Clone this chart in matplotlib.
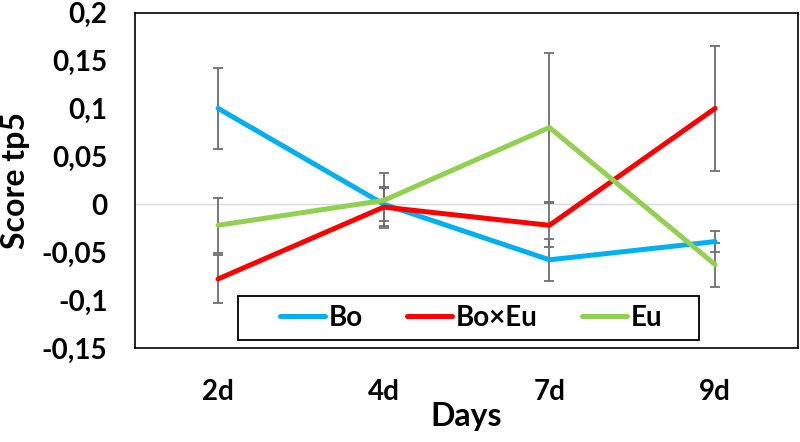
import matplotlib
matplotlib.use("Agg")
import matplotlib.pyplot as plt
from matplotlib.patches import Rectangle

# ================= data =================
days = ["2d", "4d", "7d", "9d"]
bo = [0.100, 0.000, -0.058, -0.039]
bo_err = [0.042, 0.018, 0.022, 0.011]
boxeu = [-0.078, -0.003, -0.022, 0.100]
boxeu_err = [0.025, 0.020, 0.023, 0.065]
eu = [-0.022, 0.004, 0.080, -0.063]
eu_err = [0.029, 0.029, 0.078, 0.023]
y_ticks = [-0.15, -0.1, -0.05, 0, 0.05, 0.1, 0.15, 0.2]
y_labels = ["-0,15", "-0,1", "-0,05", "0", "0,05", "0,1", "0,15", "0,2"]
# ========================================

plt.rcParams['font.family'] = ['Lato', 'DejaVu Sans']
plt.rcParams['font.weight'] = 'bold'

fig = plt.figure(figsize=(8, 4.42), dpi=100)
ax = fig.add_axes([0.169, 0.2127, 0.8285, 0.759])

x = list(range(len(days)))
series = [
    ("Bo", bo, bo_err, "#00B0F0"),
    ("Bo×Eu", boxeu, boxeu_err, "#FF0000"),
    ("Eu", eu, eu_err, "#92D050"),
]

ax.axhline(0, color="#D9D9D9", lw=1, zorder=0)

for name, vals, errs, col in series:
    ax.errorbar(x, vals, yerr=errs, fmt="none", ecolor="#6E6E6E",
                elinewidth=1.3, capsize=3.8, capthick=1.3, zorder=2)
for name, vals, errs, col in series:
    ax.plot(x, vals, color=col, lw=3.6, label=name, zorder=3,
            solid_capstyle="round")

ax.set_xlim(-0.5, 3.5)
ax.set_ylim(-0.15, 0.2)
ax.set_xticks(x)
ax.set_xticklabels(days, fontsize=20, fontweight="bold")
ax.set_yticks(y_ticks)
ax.set_yticklabels(y_labels, fontsize=20, fontweight="bold")
ax.tick_params(axis="y", length=0, pad=20)
ax.tick_params(axis="x", length=0, pad=22)

for sp in ax.spines.values():
    sp.set_color("black")
    sp.set_linewidth(1.2)

ax.set_xlabel("Days", fontsize=23, fontweight="bold")
ax.xaxis.set_label_coords(0.5, -0.16)
ax.set_ylabel("Score tp5", fontsize=23, fontweight="bold")
ax.yaxis.set_label_coords(-0.158, 0.5)

# legend box drawn separately (Excel style wide padding)
ax.add_patch(Rectangle((0.155, 0.024), 0.696, 0.131, transform=ax.transAxes,
                       facecolor="white", edgecolor="black", lw=1.3, zorder=4))
leg = ax.legend(loc="center", bbox_to_anchor=(0.507, 0.089), ncol=3,
                fontsize=20, frameon=False,
                handlelength=1.6, handletextpad=0.15, columnspacing=1.6,
                borderpad=0.2)
leg.set_zorder(5)
for t in leg.get_texts():
    t.set_fontweight("bold")

fig.savefig("out.png", dpi=100)
